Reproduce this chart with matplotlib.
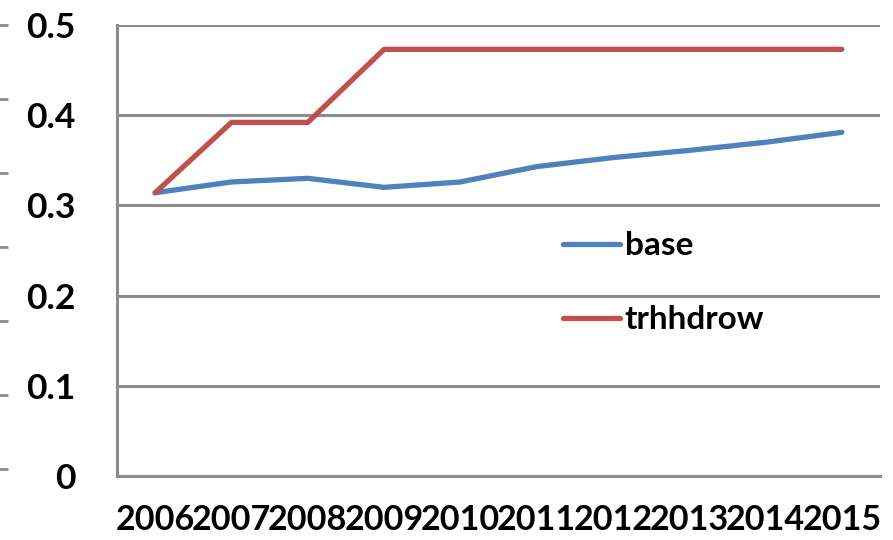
import matplotlib
matplotlib.use("Agg")
import matplotlib.pyplot as plt
import numpy as np

years = ['2006', '2007', '2008', '2009', '2010', '2011', '2012', '2013', '2014', '2015']
base = [0.314, 0.326, 0.330, 0.320, 0.326, 0.343, 0.353, 0.361, 0.370, 0.381]
trhhdrow = [0.314, 0.392, 0.392, 0.473, 0.473, 0.473, 0.473, 0.473, 0.473, 0.473]
yticks = [0, 0.1, 0.2, 0.3, 0.4, 0.5]

plt.rcParams['font.family'] = ['Lato', 'DejaVu Sans']
plt.rcParams['font.weight'] = 'bold'

W, H = 893, 540
fig = plt.figure(figsize=(W / 100, H / 100), dpi=100)

grid_col = '#8c8c8c'

# main plot area
ax = fig.add_axes([117 / W, (H - 476) / H, (880 - 117) / W, (476 - 25) / H])
x = np.arange(len(years))
ax.plot(x, base, color='#4F81BD', lw=3.8, solid_capstyle='round', label='base', zorder=3)
ax.plot(x, trhhdrow, color='#C0504D', lw=3.8, solid_capstyle='round', label='trhhdrow', zorder=3)

ax.set_xlim(-0.5, len(years) - 0.5)
ax.set_ylim(0, 0.5)
ax.set_xticks(x)
ax.set_xticklabels(years)
ax.set_yticks(yticks)
ax.set_yticklabels(['0', '0.1', '0.2', '0.3', '0.4', '0.5'])
ax.tick_params(axis='both', length=0)
ax.tick_params(axis='x', pad=20, labelsize=24.6)
ax.tick_params(axis='y', pad=30, labelsize=25.5)

for yv in yticks:
    ax.axhline(yv, color=grid_col, lw=2.2, zorder=1)
for s in ['top', 'right']:
    ax.spines[s].set_visible(False)
for s in ['left', 'bottom']:
    ax.spines[s].set_color(grid_col)
    ax.spines[s].set_linewidth(2.2)

leg = ax.legend(loc='upper left', bbox_to_anchor=((565 - 117) / (880 - 117) - 0.02, (476 - 218) / (476 - 25)),
                frameon=False, fontsize=24, handlelength=1.7, handletextpad=0.15,
                labelspacing=1.35, borderaxespad=0)

# partial tick marks of a neighbouring chart at the left edge
axl = fig.add_axes([8 / W, (H - 469) / H, 0.0001, (469 - 25) / H])
axl.set_ylim(0, 6)
axl.set_yticks(np.arange(7))
axl.set_yticklabels([])
axl.set_xticks([])
for s in axl.spines.values():
    s.set_visible(False)
axl.tick_params(axis='y', length=8, width=2, color=grid_col, direction='out')

fig.savefig('out.png', dpi=100)
